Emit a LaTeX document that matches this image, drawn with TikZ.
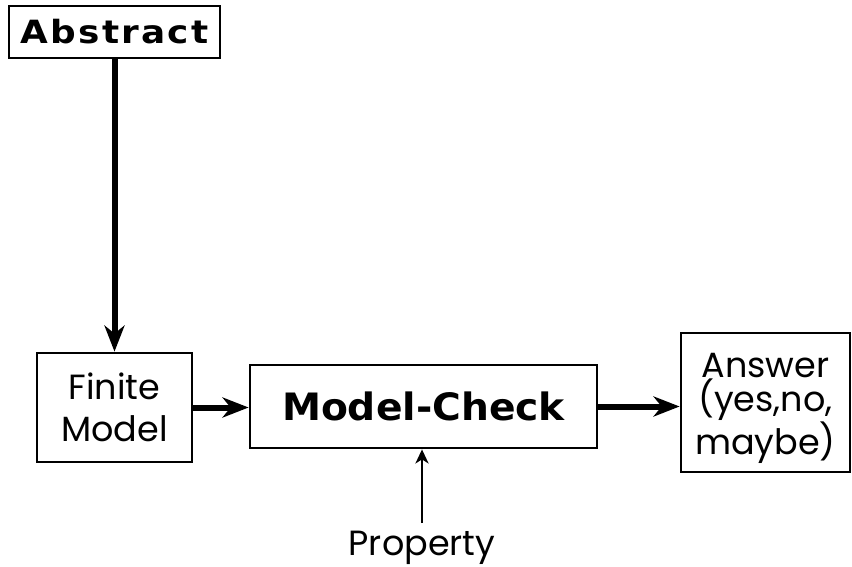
\documentclass[tikz,border=0pt]{standalone}
\usepackage{fontspec}
\usetikzlibrary{arrows.meta}
\newfontfamily\gothicfont{Poppins}
\newfontfamily\headwide[LetterSpace=7,FakeStretch=1.12]{DejaVu Sans}
\newfontfamily\headfont[FakeStretch=1.04]{DejaVu Sans}
\begin{document}
\begin{tikzpicture}[x=1pt,y=-1pt,
  box/.style={draw,line width=2.8pt,inner sep=0pt,align=center},
  plain/.style={font=\gothicfont\fontsize{35}{42}\selectfont},
  bigarrow/.style={line width=6pt,-{Stealth[length=26pt,width=20pt,inset=8pt]}},
  thinarrow/.style={line width=2.5pt,-{Stealth[length=14pt,width=13pt,inset=4pt]}}]
\useasboundingbox (0,0) rectangle (852,567);
% boxes of the pipeline
\node[box,font=\headwide\bfseries\fontsize{32}{36}\selectfont,
      minimum width=211pt,minimum height=52pt] (abs) at (114.5,32) {Abstract};
\node[box,plain,minimum width=155pt,minimum height=109pt] (fin) at (114.5,407.5) {Finite\\Model};
\node[box,font=\headfont\bfseries\fontsize{37.7}{42}\selectfont,
      minimum width=347pt,minimum height=83pt] (mc) at (423.5,406.5) {Model-Check};
\node[box,font=\gothicfont\fontsize{35}{31}\selectfont,
      minimum width=169pt,minimum height=139pt] (ans) at (765.5,402.5) {\rule{0pt}{36pt}Answer\\(yes,no,\\maybe)};
\node[plain,inner sep=0pt,anchor=base] (prop) at (422,555) {Property};
% connectors
\draw[bigarrow] (abs.south) -- (fin.north);
\draw[bigarrow] (fin.east) -- (fin.east -| mc.west);
\draw[bigarrow] (mc.east) -- (mc.east -| ans.west);
\coordinate (pt) at (422,523);
\draw[thinarrow] (pt) -- (pt |- mc.south);
\end{tikzpicture}
\end{document}
